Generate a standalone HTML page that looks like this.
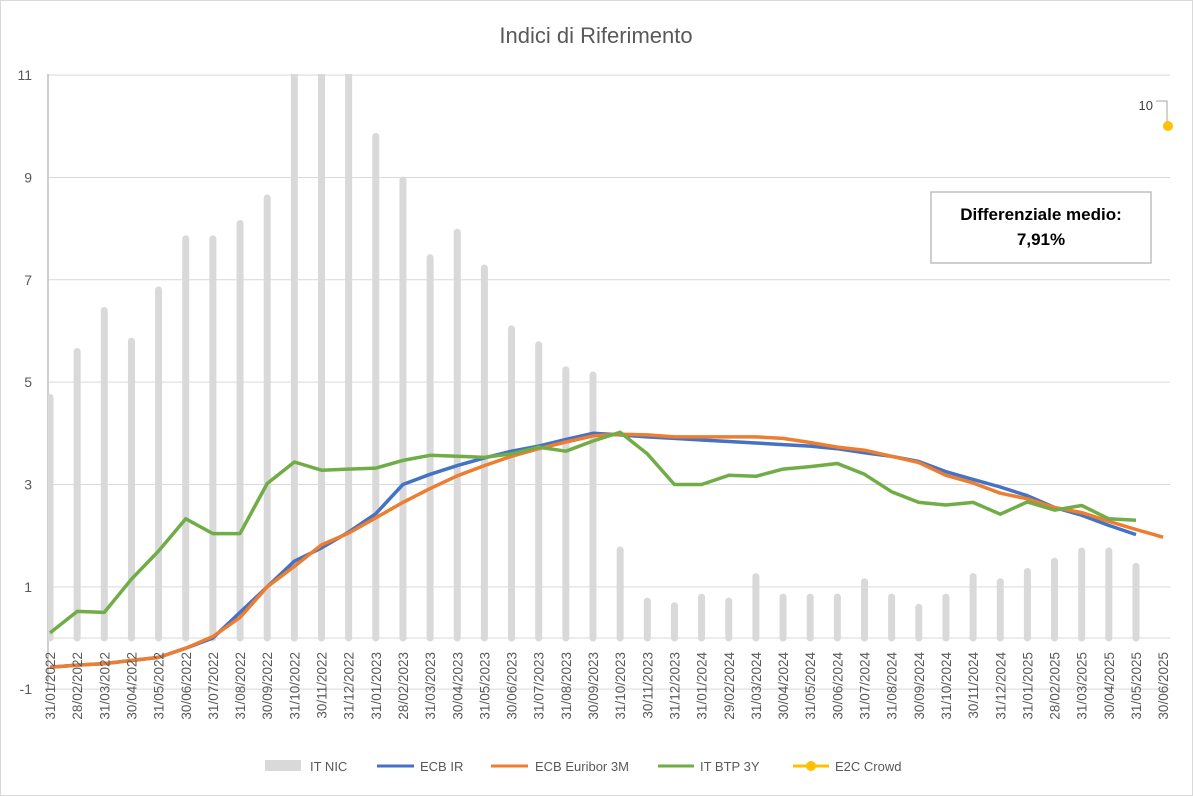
<!DOCTYPE html>
<html><head><meta charset="utf-8"><style>
html,body{margin:0;padding:0;background:#fff}
svg{display:block;font-family:"Liberation Sans",sans-serif}
</style></head><body>
<svg id="c" width="1193" height="796" viewBox="0 0 1193 796" xmlns="http://www.w3.org/2000/svg">
<rect x="0.5" y="0.5" width="1192" height="795" fill="#fff" stroke="#d9d9d9"/>
<text x="596" y="43" text-anchor="middle" font-size="22" fill="#595959">Indici di Riferimento</text>
<g id="g"></g>
<rect x="931" y="192" width="220" height="71" fill="#fff" stroke="#bfbfbf" stroke-width="1.5"/>
<text x="1041" y="220" text-anchor="middle" font-size="17" font-weight="bold" fill="#000">Differenziale medio:</text>
<text x="1041" y="245" text-anchor="middle" font-size="17" font-weight="bold" fill="#000">7,91%</text>
<polyline points="1156,101 1167,101 1167,122" fill="none" stroke="#a6a6a6" stroke-width="1"/>
<text x="1153" y="110" text-anchor="end" font-size="13" fill="#404040">10</text>
<circle cx="1168" cy="126" r="5" fill="#ffc000"/>
<g font-size="13" fill="#595959">
<rect x="265" y="760" width="36" height="11" fill="#d9d9d9"/><text x="310" y="771">IT NIC</text>
<line x1="377" y1="766" x2="414" y2="766" stroke="#4472c4" stroke-width="3"/><text x="420" y="771">ECB IR</text>
<line x1="491" y1="766" x2="528" y2="766" stroke="#ed7d31" stroke-width="3"/><text x="535" y="771">ECB Euribor 3M</text>
<line x1="658" y1="766" x2="694" y2="766" stroke="#70ad47" stroke-width="3"/><text x="700" y="771">IT BTP 3Y</text>
<line x1="793" y1="766" x2="829" y2="766" stroke="#ffc000" stroke-width="3"/><circle cx="811" cy="766" r="5" fill="#ffc000"/><text x="835" y="771">E2C Crowd</text>
</g>
</svg>
<script>
var Y=function(v){return 638-51.17*v}, X=function(i){return 50+27.15*i};
var labels=[];var m=["31/01","28/02","31/03","30/04","31/05","30/06","31/07","31/08","30/09","31/10","30/11","31/12"];
[2022,2023,2024,2025].forEach(function(y){m.forEach(function(d,k){var dd=d;if(y==2024&&k==1)dd="29/02";labels.push(dd+"/"+y)})});
labels=labels.slice(0,42);
var nic=[4.7,5.6,6.4,5.8,6.8,7.8,7.8,8.1,8.6,11.8,11.8,11.6,9.8,8.95,7.43,7.93,7.23,6.04,5.73,5.24,5.14,1.72,0.72,0.63,0.8,0.72,1.2,0.8,0.8,0.8,1.1,0.8,0.6,0.8,1.2,1.1,1.3,1.5,1.7,1.7,1.4];
var gr=[0.1,0.52,0.5,1.15,1.7,2.33,2.04,2.04,3.02,3.44,3.28,3.30,3.32,3.47,3.57,3.55,3.53,3.60,3.73,3.65,3.85,4.02,3.60,3.00,3.00,3.18,3.16,3.30,3.35,3.41,3.20,2.86,2.65,2.60,2.65,2.42,2.66,2.50,2.59,2.33,2.30];
var bl=[-0.57,-0.53,-0.5,-0.44,-0.38,-0.2,0.0,0.5,1.0,1.5,1.76,2.07,2.43,3.0,3.2,3.37,3.52,3.65,3.75,3.88,4.0,3.97,3.93,3.90,3.87,3.84,3.81,3.78,3.75,3.70,3.62,3.55,3.45,3.25,3.10,2.95,2.78,2.55,2.40,2.20,2.02];
var or=[-0.57,-0.53,-0.5,-0.44,-0.38,-0.2,0.03,0.4,1.0,1.4,1.82,2.05,2.35,2.65,2.92,3.17,3.37,3.55,3.70,3.83,3.95,3.98,3.97,3.93,3.93,3.93,3.93,3.90,3.82,3.73,3.67,3.55,3.43,3.18,3.03,2.83,2.72,2.55,2.45,2.28,2.12,1.97];
var s='<defs><clipPath id="cp"><rect x="48" y="74" width="1122" height="616"/></clipPath></defs>';
[11,9,7,5,3,1,-1].forEach(function(v){s+='<line x1="48" x2="1170" y1="'+Y(v)+'" y2="'+Y(v)+'" stroke="#d9d9d9" stroke-width="1"/>';
s+='<text x="32" y="'+(Y(v)+5)+'" text-anchor="end" font-size="14" fill="#595959">'+v+'</text>'});
s+='<line x1="48" x2="48" y1="74" y2="690" stroke="#bfbfbf" stroke-width="1.5"/>';
s+='<g clip-path="url(#cp)">';
nic.forEach(function(v,i){var x=X(i);s+='<line x1="'+x+'" x2="'+x+'" y1="'+Y(0)+'" y2="'+Y(v)+'" stroke="#d9d9d9" stroke-width="7" stroke-linecap="round"/>'});
s+='<line x1="48" x2="1170" y1="'+Y(0)+'" y2="'+Y(0)+'" stroke="#d9d9d9" stroke-width="1"/>';
function pl(a,c){return '<polyline fill="none" stroke="'+c+'" stroke-width="3.5" stroke-linejoin="round" points="'+a.map(function(v,i){return X(i).toFixed(1)+','+Y(v).toFixed(1)}).join(' ')+'"/>'}
s+=pl(bl,"#4472c4")+pl(or,"#ed7d31")+pl(gr,"#70ad47")+'</g>';
labels.forEach(function(l,i){var x=X(i)+5;s+='<text transform="translate('+x+',652) rotate(-90)" text-anchor="end" font-size="13.5" fill="#595959">'+l+'</text>'});
document.getElementById("g").innerHTML=s;
</script>
</body></html>
